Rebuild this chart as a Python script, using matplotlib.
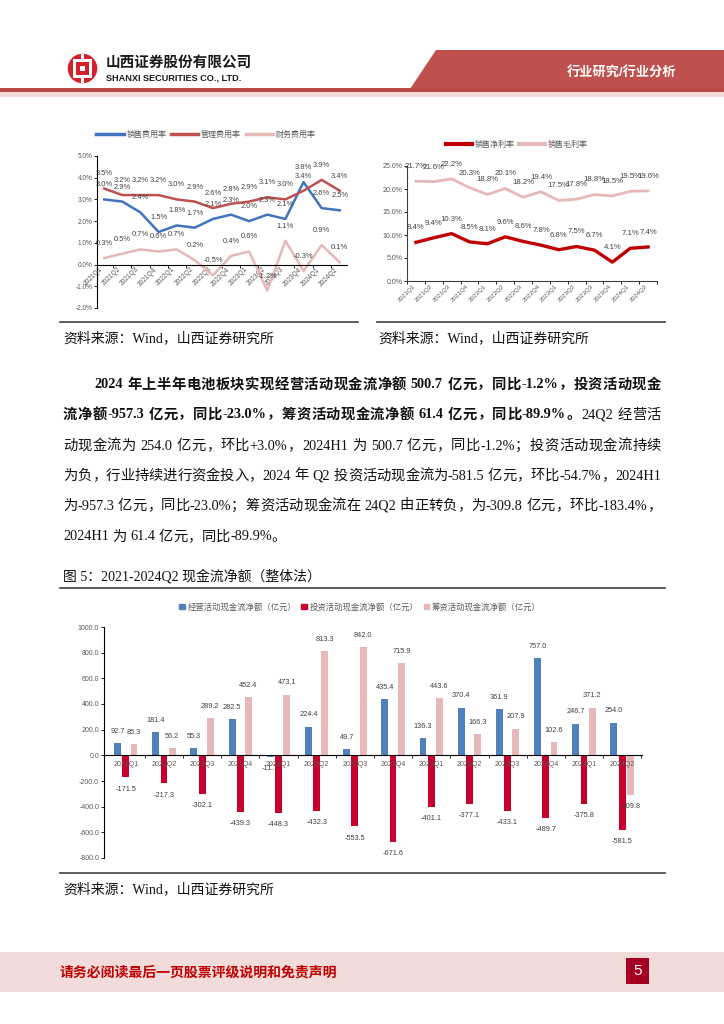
import re
import matplotlib
matplotlib.use("Agg")
import matplotlib.pyplot as plt
from matplotlib.lines import Line2D
from matplotlib.patches import Patch, Rectangle, Polygon, Circle

plt.rcParams['font.family'] = ['Liberation Sans', 'Noto Sans CJK SC', 'DejaVu Sans']
BODY = ['Liberation Serif', 'Noto Sans CJK SC', 'DejaVu Sans']

W, H = 724, 1024

# ---------- Data ----------
quarters = ['2021Q1', '2021Q2', '2021Q3', '2021Q4', '2022Q1', '2022Q2', '2022Q3',
            '2022Q4', '2023Q1', '2023Q2', '2023Q3', '2023Q4', '2024Q1', '2024Q2']

# 费用率 (%)
sales_exp = [3.0, 2.9, 2.4, 1.5, 1.8, 1.7, 2.1, 2.3, 2.0, 2.3, 2.1, 3.8, 2.6, 2.5]
admin_exp = [3.5, 3.2, 3.2, 3.2, 3.0, 2.9, 2.6, 2.8, 2.9, 3.1, 3.0, 3.4, 3.9, 3.4]
fin_exp = [0.3, 0.5, 0.7, 0.6, 0.7, 0.2, -0.5, 0.4, 0.6, -1.2, 1.1, -0.3, 0.9, 0.1]
rate_ticks = [5.0, 4.0, 3.0, 2.0, 1.0, 0.0, -1.0, -2.0]

# 利润率 (%)
net_margin = [8.4, 9.4, 10.3, 8.5, 8.1, 9.6, 8.6, 7.8, 6.8, 7.5, 6.7, 4.1, 7.1, 7.4]
gross_margin = [21.7, 21.6, 22.2, 20.3, 18.8, 20.1, 18.2, 19.4, 17.5, 17.8, 18.8, 18.5, 19.5, 19.6]
margin_ticks = [0.0, 5.0, 10.0, 15.0, 20.0, 25.0]

# 现金流净额 (亿元)
op_cf = [92.7, 181.4, 55.3, 282.5, -11.7, 224.4, 49.7, 435.4, 136.3, 370.4, 361.9, 757.0, 246.7, 254.0]
inv_cf = [-171.5, -217.3, -302.1, -439.3, -448.3, -432.3, -553.5, -671.6, -401.1, -377.1, -433.1,
          -489.7, -375.8, -581.5]
fin_cf = [85.3, 56.2, 289.2, 452.4, 473.1, 813.3, 842.0, 715.9, 443.6, 166.3, 207.9, 102.6, 371.2, -309.8]
cf_ticks = [1000, 800, 600, 400, 200, 0, -200, -400, -600, -800]

para_lines = [
    [("2024 年上半年电池板块实现经营活动现金流净额 500.7 亿元，同比-1.2%，投资活动现金", True)],
    [("流净额-957.3 亿元，同比-23.0%，筹资活动现金流净额 61.4 亿元，同比-89.9%。", True),
     ("24Q2 经营活", False)],
    [("动现金流为 254.0 亿元，环比+3.0%，2024H1 为 500.7 亿元，同比-1.2%；投资活动现金流持续", False)],
    [("为负，行业持续进行资金投入，2024 年 Q2 投资活动现金流为-581.5 亿元，环比-54.7%，2024H1", False)],
    [("为-957.3 亿元，同比-23.0%；筹资活动现金流在 24Q2 由正转负，为-309.8 亿元，环比-183.4%，", False)],
    [("2024H1 为 61.4 亿元，同比-89.9%。", False)],
]

GRAY = '#595959'


# ---------- Helpers ----------
def fx(x):
    return x / W


def fy(y):
    return 1 - y / H


def box(l, t, r, b):
    return [l / W, 1 - b / H, (r - l) / W, (b - t) / H]


def hline(fig, y, x0, x1, color='#404040', lw=1.2):
    fig.add_artist(Line2D([fx(x0), fx(x1)], [fy(y), fy(y)], color=color, lw=lw))


def draw_line(fig, renderer, y, x0, x1, runs, size, justify=True):
    # 把一行拆成字/词, 两端对齐
    toks = []
    for text, bold in runs:
        for tok in re.findall(r'[A-Za-z0-9.+\-%]+|\s|.', text):
            toks.append((tok, bold))
    items = []
    space_w = size * 100 / 72 * 0.25
    for tok, bold in toks:
        if tok.isspace():
            items.append((None, space_w))
            continue
        t = fig.text(0, fy(y), tok, fontsize=size, family=BODY,
                     fontweight='bold' if bold else 'normal',
                     va='center', ha='left', color='#111111')
        items.append((t, t.get_window_extent(renderer).width))
    total = sum(w for _, w in items)
    gap = (x1 - x0 - total) / (len(items) - 1) if justify and len(items) > 1 else 0
    x = x0
    for t, w in items:
        if t is not None:
            t.set_x(fx(x))
        x += w + gap


def style_axes(ax, color='#404040'):
    for s in ['top', 'right']:
        ax.spines[s].set_visible(False)
    for s in ['left', 'bottom']:
        ax.spines[s].set_color(color)
        ax.spines[s].set_linewidth(0.8)


# ---------- Figure ----------
fig = plt.figure(figsize=(W / 100, H / 100), dpi=100)
renderer = fig.canvas.get_renderer()

# header
fig.add_artist(Polygon([(fx(436), fy(50)), (1, fy(50)), (1, fy(89)), (fx(410), fy(89))],
                       closed=True, fc='#C0504D', ec='none'))
fig.add_artist(Rectangle((0, fy(92)), 1, 4 / H, fc='#B94A47', ec='none'))
fig.add_artist(Rectangle((0, fy(97)), 1, 5 / H, fc='#F2DCDB', ec='none'))
fig.text(fx(622), fy(72), '行业研究/行业分析', color='white', fontsize=9.5,
         fontweight='bold', ha='center', va='center')

ax_logo = fig.add_axes(box(67, 53, 98, 84))
ax_logo.set_xlim(-1.05, 1.05)
ax_logo.set_ylim(-1.05, 1.05)
ax_logo.set_aspect('equal')
ax_logo.axis('off')
ax_logo.add_patch(Circle((0, 0), 1.0, fc='#D4202A', ec='none'))
ax_logo.add_patch(Rectangle((-0.62, -0.62), 1.24, 1.24, fc='white', ec='none'))
ax_logo.add_patch(Rectangle((-0.42, -0.42), 0.84, 0.84, fc='#D4202A', ec='none'))
ax_logo.add_patch(Rectangle((-0.2, -0.2), 0.4, 0.4, fc='white', ec='none'))
ax_logo.add_patch(Rectangle((-0.1, -1.0), 0.2, 0.4, fc='white', ec='none'))
ax_logo.add_patch(Rectangle((-0.1, 0.6), 0.2, 0.4, fc='white', ec='none'))

fig.text(fx(106), fy(63), '山西证券股份有限公司', fontsize=10.5, fontweight='bold',
         color='#1a1a1a', ha='left', va='center')
fig.text(fx(106), fy(78), 'SHANXI SECURITIES CO., LTD.', fontsize=6.6, fontweight='bold',
         color='#1a1a1a', ha='left', va='center')

x = list(range(len(quarters)))

# ---------- 图: 费用率 ----------
ax1 = fig.add_axes(box(97, 156, 347, 308))
style_axes(ax1, '#000000')
ax1.spines['bottom'].set_position(('data', 0))
ax1.plot(x, sales_exp, color='#4173BE', lw=1.8)
ax1.plot(x, admin_exp, color='#C0504D', lw=1.8)
ax1.plot(x, fin_exp, color='#E6B9B8', lw=1.8)
for series in (sales_exp, admin_exp, fin_exp):
    for i, v in enumerate(series):
        ax1.annotate(f'{v:.1f}%', (i, v), xytext=(0, 10.5), textcoords='offset points',
                     ha='center', va='center', fontsize=5.4, color='#404040')
ax1.set_xlim(-0.4, 13.4)
ax1.set_ylim(-2, 5)
ax1.set_yticks(rate_ticks)
ax1.set_yticklabels([f'{t:.1f}%' for t in rate_ticks], fontsize=4.7, color=GRAY)
ax1.set_xticks(x)
ax1.set_xticklabels(quarters, rotation=45, ha='right', va='top', fontsize=4.8, color=GRAY)
ax1.tick_params(axis='x', length=0, pad=1)
ax1.tick_params(axis='y', length=2, width=0.6, pad=1)
ax1.set_xticks([i + 0.5 for i in x[:-1]], minor=True)
ax1.tick_params(axis='x', which='minor', length=2, width=0.6)
h1 = [Line2D([], [], color=c, lw=2.5) for c in ('#4173BE', '#C0504D', '#E6B9B8')]
leg = ax1.legend(h1, ['销售费用率', '管理费用率', '财务费用率'], ncol=3, loc='center',
                 bbox_to_anchor=(fx(206), fy(135)), bbox_transform=fig.transFigure,
                 frameon=False, fontsize=5.8, handlelength=3.4, handletextpad=0.3,
                 columnspacing=0.6)
for t in leg.get_texts():
    t.set_color(GRAY)

# ---------- 图: 利润率 ----------
ax2 = fig.add_axes(box(407, 166, 657, 281))
style_axes(ax2, '#404040')
ax2.plot(x, net_margin, color='#C00000', lw=2.4)
ax2.plot(x, gross_margin, color='#E6B9B8', lw=2.0)
for series in (net_margin, gross_margin):
    for i, v in enumerate(series):
        ax2.annotate(f'{v:.1f}%', (i, v), xytext=(0, 10.5), textcoords='offset points',
                     ha='center', va='center', fontsize=5.6, color='#404040')
ax2.set_xlim(-0.5, 13.5)
ax2.set_ylim(0, 25)
ax2.set_yticks(margin_ticks)
ax2.set_yticklabels([f'{t:.1f}%' for t in margin_ticks], fontsize=5, color=GRAY)
ax2.set_xticks(x)
ax2.set_xticklabels(quarters, rotation=45, ha='right', va='top', fontsize=4.5, color=GRAY)
ax2.tick_params(axis='x', length=0, pad=2)
ax2.tick_params(axis='y', length=2, width=0.6, pad=1)
ax2.set_xticks([i - 0.5 for i in x] + [13.5], minor=True)
ax2.tick_params(axis='x', which='minor', length=2.5, width=0.6)
h2 = [Line2D([], [], color=c, lw=3) for c in ('#C00000', '#E6B9B8')]
leg = ax2.legend(h2, ['销售净利率', '销售毛利率'], ncol=2, loc='center',
                 bbox_to_anchor=(fx(517), fy(145)), bbox_transform=fig.transFigure,
                 frameon=False, fontsize=5.8, handlelength=3.2, handletextpad=0.3,
                 columnspacing=0.6)
for t in leg.get_texts():
    t.set_color(GRAY)

hline(fig, 322, 60, 358)
hline(fig, 322, 377, 665)
fig.text(fx(63), fy(338), '资料来源：Wind，山西证券研究所', fontsize=10, family=BODY,
         ha='left', va='center', color='#111111')
fig.text(fx(378), fy(338), '资料来源：Wind，山西证券研究所', fontsize=10, family=BODY,
         ha='left', va='center', color='#111111')

# ---------- 正文 ----------
line_y = [385, 415, 446, 476, 506, 537]
for k, (runs, y) in enumerate(zip(para_lines, line_y)):
    x0 = 94 if k == 0 else 63
    draw_line(fig, renderer, y, x0, 661, runs, 10.3, justify=(k < len(para_lines) - 1))

fig.text(fx(63), fy(576), '图 5：2021-2024Q2 现金流净额（整体法）', fontsize=10, family=BODY,
         ha='left', va='center', color='#111111')
hline(fig, 588, 60, 665)

# ---------- 图5: 现金流净额 ----------
ax3 = fig.add_axes(box(104, 627, 642, 858))
style_axes(ax3, '#000000')
ax3.spines['bottom'].set_position(('data', 0))
bw, off = 0.18, 0.215
bars = [(op_cf, -off, '#4F81BD'), (inv_cf, 0, '#C8002E'), (fin_cf, off, '#E6B9B8')]
for vals, dx, col in bars:
    xs = [i + dx for i in x]
    ax3.bar(xs, vals, width=bw, color=col)
    for xi, v in zip(xs, vals):
        ax3.annotate(f'{v:.1f}', (xi, v), xytext=(0, 8.5 if v >= 0 else -8.5),
                     textcoords='offset points', ha='center', va='center',
                     fontsize=5.3, color='#404040')
ax3.set_xlim(-0.57, 13.52)
ax3.set_ylim(-800, 1000)
ax3.set_yticks(cf_ticks)
ax3.set_yticklabels([f'{t:.1f}' for t in cf_ticks], fontsize=5, color=GRAY)
ax3.set_xticks(x)
ax3.set_xticklabels(quarters, fontsize=5, color=GRAY)
ax3.tick_params(axis='x', length=0, pad=4)
ax3.tick_params(axis='y', length=2.5, width=0.6, pad=1)
ax3.set_xticks([i + 0.5 for i in x], minor=True)
ax3.tick_params(axis='x', which='minor', length=2.5, width=0.6)
h3 = [Patch(color=c) for c in ('#4F81BD', '#C8002E', '#E6B9B8')]
leg = ax3.legend(h3, ['经营活动现金流净额（亿元）', '投资活动现金流净额（亿元）',
                      '筹资活动现金流净额（亿元）'], ncol=3, loc='center',
                 bbox_to_anchor=(fx(360), fy(607)), bbox_transform=fig.transFigure,
                 frameon=False, fontsize=6, handlelength=0.7, handleheight=0.7,
                 handletextpad=0.3, columnspacing=0.6)
for t in leg.get_texts():
    t.set_color(GRAY)

hline(fig, 873, 60, 665)
fig.text(fx(63), fy(889), '资料来源：Wind，山西证券研究所', fontsize=10, family=BODY,
         ha='left', va='center', color='#111111')

# ---------- 页脚 ----------
fig.add_artist(Rectangle((0, fy(992)), 1, 40 / H, fc='#F2DCDB', ec='none'))
fig.text(fx(60), fy(972), '请务必阅读最后一页股票评级说明和免责声明', fontsize=10,
         fontweight='bold', color='#C00000', ha='left', va='center')
fig.add_artist(Rectangle((fx(626), fy(984)), 23 / W, 26 / H, fc='#A50021', ec='none'))
fig.text(fx(637.5), fy(971), '5', fontsize=11, color='white', ha='center', va='center')

fig.savefig('out.png', dpi=100)
